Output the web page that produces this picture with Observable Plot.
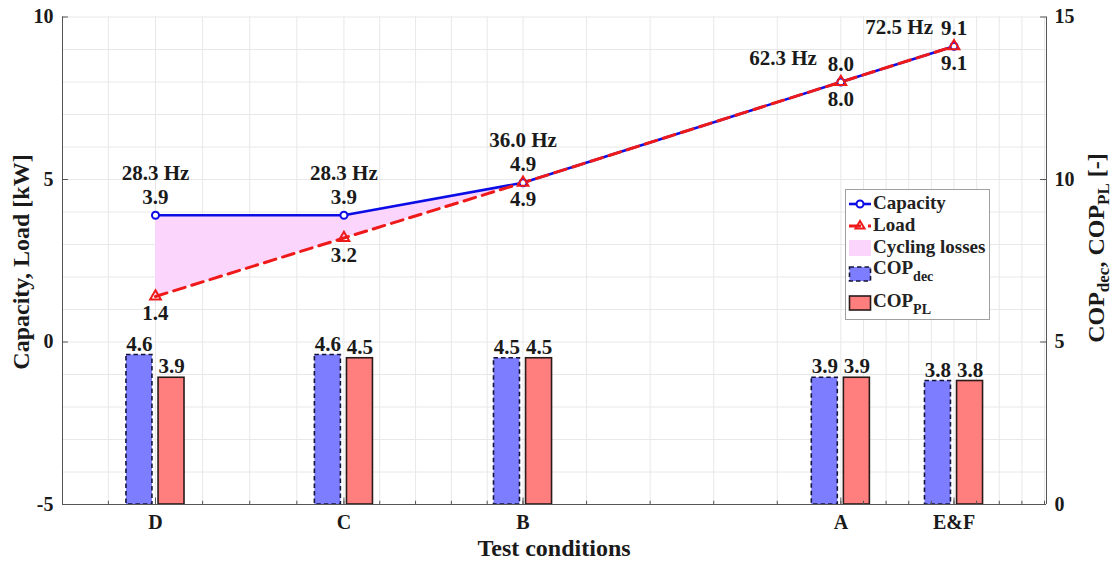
<!DOCTYPE html>
<html>
<head>
<meta charset="utf-8">
<script src="https://cdn.jsdelivr.net/npm/d3@7"></script>
<script src="https://cdn.jsdelivr.net/npm/@observablehq/plot@0.6"></script>
<style>
  html, body { margin: 0; padding: 0; background: #fff; }
  #wrap { position: relative; width: 1116px; height: 563px; font-family: "Liberation Serif", "Times New Roman", serif; }
  #legend { position: absolute; left: 845px; top: 189px; width: 143px; height: 129px; border: 1px solid #a0a0a0; background: #fff; font-weight: bold; font-size: 19px; color: #222; }
  #legend .row { position: absolute; left: 0; white-space: nowrap; }
  #legend svg { position: absolute; left: 2px; }
  #legend .lbl { position: absolute; left: 27px; }
  #legend sub { font-size: 14px; vertical-align: -7px; }
</style>
</head>
<body>
<div id="wrap"></div>
<script>
// ---- data ----
const cats = ["D", "C", "B", "A", "E&F"];
const xPos = [9.45, 28.6, 46.8, 79.1, 90.6];          // position of each test condition along the axis (0–100)
const capacity = [3.9, 3.9, 4.9, 8.0, 9.1];           // kW
const load = [1.4, 3.2, 4.9, 8.0, 9.1];               // kW
const freq = ["28.3 Hz", "28.3 Hz", "36.0 Hz", "62.3 Hz", "72.5 Hz"];
const copDec = [4.6, 4.6, 4.5, 3.9, 3.8];
const copPL = [3.9, 4.5, 4.5, 3.9, 3.8];
const leftTicks = [-5, 0, 5, 10];
const rightTicks = [0, 5, 10, 15];
const minorDivs = [4, 5, 5, 5];

const rows = cats.map((c, i) => ({
  cat: c, x: xPos[i], cap: capacity[i], load: load[i], freq: freq[i], dec: copDec[i], pl: copPL[i]
}));

// right axis (COP 0–15) shares the left scale with an offset of 5
const cop2y = v => v - rightTicks[0] + leftTicks[0];

// minor grid positions: subdivisions between consecutive conditions, extended to the edges
const gridX = [];
for (let i = 0; i < xPos.length - 1; i++) {
  const s = (xPos[i + 1] - xPos[i]) / minorDivs[i];
  for (let k = 0; k < minorDivs[i]; k++) gridX.push(xPos[i] + k * s);
}
gridX.push(xPos[xPos.length - 1]);
{
  let s0 = (xPos[1] - xPos[0]) / minorDivs[0];
  for (let v = xPos[0] - s0; v > 0.5; v -= s0) gridX.push(v);
  let s1 = (xPos[4] - xPos[3]) / minorDivs[3];
  for (let v = xPos[4] + s1; v < 100; v += s1) gridX.push(v);
}

const FONT = "'Liberation Serif', 'Times New Roman', serif";
const blue = "#0c0ce6", red = "#ee1a1a", pink = "#fbd5fb";

const chart = Plot.plot({
  width: 1116, height: 563,
  marginLeft: 62, marginRight: 70, marginTop: 16.5, marginBottom: 59,
  x: { domain: [0, 100] },
  y: { domain: [leftTicks[0], leftTicks[leftTicks.length - 1]] },
  style: { fontFamily: FONT, fontSize: "20px", fontWeight: "bold", color: "#1a1a1a", background: "white", overflow: "visible" },
  marks: [
    Plot.ruleY(d3.range(leftTicks[0], leftTicks[leftTicks.length - 1] + 1), { stroke: "#e8e8e8", strokeWidth: 1 }),
    Plot.ruleX(gridX, { stroke: "#e8e8e8", strokeWidth: 1 }),
    Plot.areaY(rows, { x: "x", y1: "load", y2: "cap", fill: pink }),
    // COP bars
    Plot.rect(rows, { x1: d => d.x - 2.95, x2: d => d.x - 0.31, y1: leftTicks[0], y2: d => cop2y(d.dec),
      fill: "#7d7dff", stroke: "#14143a", strokeWidth: 1.6, strokeDasharray: "4.5,3" }),
    Plot.rect(rows, { x1: d => d.x + 0.31, x2: d => d.x + 2.95, y1: leftTicks[0], y2: d => cop2y(d.pl),
      fill: "#ff7f7f", stroke: "#2a1a1a", strokeWidth: 1.6 }),
    Plot.text(rows, { x: d => d.x - 1.63, y: d => cop2y(d.dec), text: d => d.dec.toFixed(1), dy: -11, fontSize: 21 }),
    Plot.text(rows, { x: d => d.x + 1.63, y: d => cop2y(d.pl), text: d => d.pl.toFixed(1), dy: -11, fontSize: 21 }),
    // axes frame
    Plot.ruleX([0, 100], { stroke: "#555", strokeWidth: 1 }),
    Plot.ruleY([leftTicks[0]], { stroke: "#555", strokeWidth: 1 }),
    Plot.ruleY(leftTicks, { x1: 0, x2: 0.6, stroke: "#555" }),
    Plot.ruleY(leftTicks, { x1: 99.4, x2: 100, stroke: "#555" }),
    Plot.ruleX(xPos, { y1: leftTicks[0], y2: leftTicks[0] + 0.2, stroke: "#555" }),
    Plot.ruleX(gridX, { y1: leftTicks[0], y2: leftTicks[0] + 0.1, stroke: "#555" }),
    // lines
    Plot.line(rows, { x: "x", y: "cap", stroke: blue, strokeWidth: 2.6 }),
    Plot.line(rows, { x: "x", y: "load", stroke: red, strokeWidth: 3, strokeDasharray: "12,7" }),
    Plot.dot(rows, { x: "x", y: "cap", r: 3.5, stroke: blue, strokeWidth: 2, fill: "white" }),
    Plot.dot(rows, { x: "x", y: "load", symbol: "triangle", r: 4, stroke: red, strokeWidth: 2, fill: "none" }),
    // labels
    Plot.text(rows.slice(0, 3), { x: "x", y: "cap", text: "freq", dy: -42, fontSize: 21 }),
    Plot.text(rows, { x: "x", y: "cap", text: d => d.cap.toFixed(1), dy: -18, fontSize: 21 }),
    Plot.text([rows[3]], { x: "x", y: "cap", text: "freq", textAnchor: "end", dx: -24, dy: -24, fontSize: 21 }),
    Plot.text([rows[4]], { x: "x", y: "cap", text: "freq", textAnchor: "end", dx: -21, dy: -19, fontSize: 21 }),
    Plot.text(rows, { x: "x", y: "load", text: d => d.load.toFixed(1), dy: 17, fontSize: 21 }),
    // axes
    Plot.axisY({ anchor: "left", ticks: leftTicks, tickFormat: d => String(d), tickSize: 0, tickPadding: 9, label: null }),
    Plot.axisY({ anchor: "right", ticks: leftTicks, tickFormat: d => String(d - leftTicks[0] + rightTicks[0]), tickSize: 0, tickPadding: 8, label: null }),
    Plot.axisX({ ticks: xPos, tickFormat: d => cats[xPos.indexOf(d)], tickSize: 0, tickPadding: 10, label: null })
  ]
});

const wrap = document.getElementById("wrap");
wrap.appendChild(chart);

const svg = d3.select(chart);
svg.append("text")
  .attr("transform", "translate(29,262) rotate(-90)")
  .attr("text-anchor", "middle")
  .style("font-size", "24px").style("font-weight", "bold").style("font-family", FONT).attr("fill", "#1a1a1a")
  .text("Capacity, Load [kW]");

svg.append("text")
  .attr("x", 554).attr("y", 556)
  .attr("text-anchor", "middle")
  .style("font-size", "24px").style("font-weight", "bold").style("font-family", FONT).attr("fill", "#1a1a1a")
  .text("Test conditions");

const rt = svg.append("text")
  .attr("transform", "translate(1104,248) rotate(-90)")
  .attr("text-anchor", "middle")
  .style("font-size", "24px").style("font-weight", "bold").style("font-family", FONT).attr("fill", "#1a1a1a");
rt.append("tspan").text("COP");
rt.append("tspan").attr("baseline-shift", "-30%").style("font-size", "17px").text("dec");
rt.append("tspan").text(", COP");
rt.append("tspan").attr("baseline-shift", "-30%").style("font-size", "17px").text("PL");
rt.append("tspan").text(" [-]");

// legend
const legend = document.createElement("div");
legend.id = "legend";
legend.innerHTML = `
  <div class="row" style="top:2px;height:24px;width:140px">
    <svg width="24" height="24" style="top:0"><line x1="1" y1="12" x2="23" y2="12" stroke="${blue}" stroke-width="2.6"/><circle cx="12" cy="12" r="3.5" fill="white" stroke="${blue}" stroke-width="2"/></svg>
    <span class="lbl" style="top:0">Capacity</span></div>
  <div class="row" style="top:24px;height:24px;width:140px">
    <svg width="24" height="24" style="top:0"><line x1="1" y1="12" x2="23" y2="12" stroke="${red}" stroke-width="3" stroke-dasharray="12,7"/><path d="M12,7 L16.5,14.5 L7.5,14.5 Z" fill="none" stroke="${red}" stroke-width="2"/></svg>
    <span class="lbl" style="top:0">Load</span></div>
  <div class="row" style="top:46px;height:24px;width:140px">
    <svg width="24" height="24" style="top:0"><rect x="1" y="4" width="22" height="16" fill="${pink}"/></svg>
    <span class="lbl" style="top:0">Cycling losses</span></div>
  <div class="row" style="top:71px;height:30px;width:140px">
    <svg width="24" height="30" style="top:0"><rect x="1.5" y="6" width="21" height="14" fill="#7d7dff" stroke="#14143a" stroke-width="1.6" stroke-dasharray="4.5,3"/></svg>
    <span class="lbl" style="top:-4px">COP<sub>dec</sub></span></div>
  <div class="row" style="top:103px;height:28px;width:140px">
    <svg width="24" height="28" style="top:-1px"><rect x="1.5" y="4" width="21" height="14" fill="#ff7f7f" stroke="#2a1a1a" stroke-width="1.6"/></svg>
    <span class="lbl" style="top:-3px">COP<sub>PL</sub></span></div>
`;
wrap.appendChild(legend);
</script>
</body>
</html>
